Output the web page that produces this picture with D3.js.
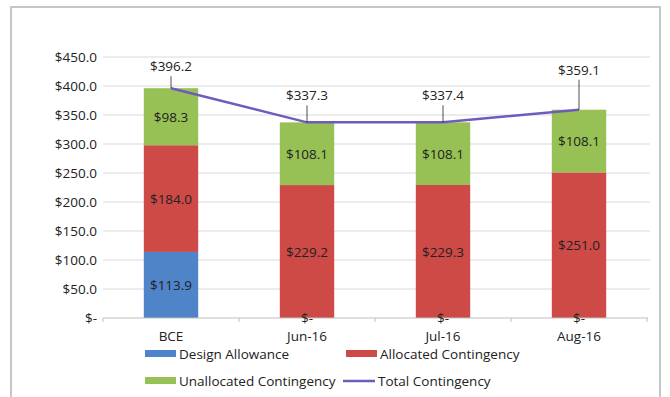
<!DOCTYPE html>
<html>
<head>
<meta charset="utf-8">
<script src="https://cdn.jsdelivr.net/npm/d3@7"></script>
<style>
  body { margin: 0; background: #fff; }
  text { font-family: "Open Sans", "Noto Sans", sans-serif; fill: #222; }
</style>
</head>
<body>
<div id="chart"></div>
<script>
var categories = ["BCE", "Jun-16", "Jul-16", "Aug-16"];
var designAllowance = [113.9, 0, 0, 0];
var allocatedContingency = [184.0, 229.2, 229.3, 251.0];
var unallocatedContingency = [98.3, 108.1, 108.1, 108.1];
var totalContingency = [396.2, 337.3, 337.4, 359.1];
var yTicks = [0, 50, 100, 150, 200, 250, 300, 350, 400, 450];

var seriesNames = ["Design Allowance", "Allocated Contingency", "Unallocated Contingency"];
var colors = ["#4f84c9", "#cd4a47", "#97c154"];
var lineColor = "#6f5bbd";
// how far (px) each total label sits above its point
var totalLabelLift = [17, 22, 22, 35];
var fs = 13.5;

var width = 670, height = 397;

var svg = d3.select("#chart").append("svg")
    .attr("width", width)
    .attr("height", height);

// outer frame
svg.append("rect")
    .attr("x", 11).attr("y", 7)
    .attr("width", 649).attr("height", 400)
    .attr("fill", "#fff")
    .attr("stroke", "#c6c6c6")
    .attr("stroke-width", 2);

var x = d3.scaleBand()
    .domain(categories)
    .range([103, 647])
    .paddingInner(0.6)
    .paddingOuter(0.3);

var y = d3.scaleLinear()
    .domain([0, 450])
    .range([318, 57]);

function money(v) {
    return v === 0 ? "$-" : "$" + d3.format(".1f")(v);
}

// gridlines
svg.append("g").selectAll("line")
    .data(yTicks.slice(1))
    .enter().append("line")
    .attr("x1", 103).attr("x2", 650)
    .attr("y1", function(d) { return y(d); })
    .attr("y2", function(d) { return y(d); })
    .attr("stroke", "#d9d9d9")
    .attr("stroke-width", 1);

// y labels
svg.append("g").selectAll("text")
    .data(yTicks)
    .enter().append("text")
    .attr("x", 97)
    .attr("y", function(d) { return y(d) + 5; })
    .attr("text-anchor", "end")
    .attr("font-size", fs)
    .text(money);

var table = categories.map(function(c, i) {
    return { cat: c, a: designAllowance[i], b: allocatedContingency[i], c: unallocatedContingency[i] };
});
var stack = d3.stack().keys(["a", "b", "c"]);
var layers = stack(table);

var groups = svg.append("g").selectAll("g")
    .data(layers)
    .enter().append("g")
    .attr("fill", function(d, i) { return colors[i]; });

groups.selectAll("rect")
    .data(function(d) { return d; })
    .enter().append("rect")
    .attr("x", function(d) { return x(d.data.cat); })
    .attr("width", x.bandwidth())
    .attr("y", function(d) { return y(d[1]); })
    .attr("height", function(d) { return y(d[0]) - y(d[1]); });

// x axis baseline + ticks
svg.append("line")
    .attr("x1", 103).attr("x2", 648)
    .attr("y1", y(0)).attr("y2", y(0))
    .attr("stroke", "#bfbfbf");
svg.append("g").selectAll("line")
    .data(d3.range(categories.length + 1))
    .enter().append("line")
    .attr("x1", function(i) { return 103 + i * x.step(); })
    .attr("x2", function(i) { return 103 + i * x.step(); })
    .attr("y1", y(0)).attr("y2", y(0) + 4)
    .attr("stroke", "#bfbfbf");

// segment labels
layers.forEach(function(layer) {
    svg.append("g").selectAll("text")
        .data(layer)
        .enter().append("text")
        .attr("x", function(d) { return x(d.data.cat) + x.bandwidth() / 2; })
        .attr("y", function(d) { return y((d[0] + d[1]) / 2) + 5; })
        .attr("text-anchor", "middle")
        .attr("font-size", fs)
        .text(function(d) { return money(d[1] - d[0]); });
});

// category labels
svg.append("g").selectAll("text")
    .data(categories)
    .enter().append("text")
    .attr("x", function(d) { return x(d) + x.bandwidth() / 2; })
    .attr("y", 341)
    .attr("text-anchor", "middle")
    .attr("font-size", fs)
    .text(function(d) { return d; });

// total line
var line = d3.line()
    .x(function(d, i) { return x(categories[i]) + x.bandwidth() / 2; })
    .y(function(d) { return y(d); });

svg.append("path")
    .datum(totalContingency)
    .attr("d", line)
    .attr("fill", "none")
    .attr("stroke", lineColor)
    .attr("stroke-width", 2.5);

var tl = svg.append("g").selectAll("g")
    .data(totalContingency)
    .enter().append("g");
tl.append("line")
    .attr("x1", function(d, i) { return x(categories[i]) + x.bandwidth() / 2; })
    .attr("x2", function(d, i) { return x(categories[i]) + x.bandwidth() / 2; })
    .attr("y1", function(d, i) { return y(d) - totalLabelLift[i] + 5; })
    .attr("y2", function(d) { return y(d); })
    .attr("stroke", "#222")
    .attr("stroke-width", 0.8);
tl.append("text")
    .attr("x", function(d, i) { return x(categories[i]) + x.bandwidth() / 2; })
    .attr("y", function(d, i) { return y(d) - totalLabelLift[i]; })
    .attr("text-anchor", "middle")
    .attr("font-size", fs)
    .text(money);

// legend
var legend = [
    { name: seriesNames[0], color: colors[0], type: "rect", x: 145, y: 354 },
    { name: seriesNames[1], color: colors[1], type: "rect", x: 346, y: 354 },
    { name: seriesNames[2], color: colors[2], type: "rect", x: 145, y: 381 },
    { name: "Total Contingency", color: lineColor, type: "line", x: 343, y: 381 }
];
var lg = svg.append("g").selectAll("g")
    .data(legend)
    .enter().append("g")
    .attr("transform", function(d) { return "translate(" + d.x + "," + d.y + ")"; });
lg.filter(function(d) { return d.type === "rect"; })
    .append("rect")
    .attr("x", 0).attr("y", -4)
    .attr("width", 31).attr("height", 7)
    .attr("fill", function(d) { return d.color; });
lg.filter(function(d) { return d.type === "line"; })
    .append("line")
    .attr("x1", 0).attr("x2", 32)
    .attr("y1", 0).attr("y2", 0)
    .attr("stroke", function(d) { return d.color; })
    .attr("stroke-width", 2.5);
lg.append("text")
    .attr("x", function(d) { return d.type === "rect" ? 34 : 35; })
    .attr("y", 5)
    .attr("font-size", fs)
    .text(function(d) { return d.name; });
</script>
</body>
</html>
